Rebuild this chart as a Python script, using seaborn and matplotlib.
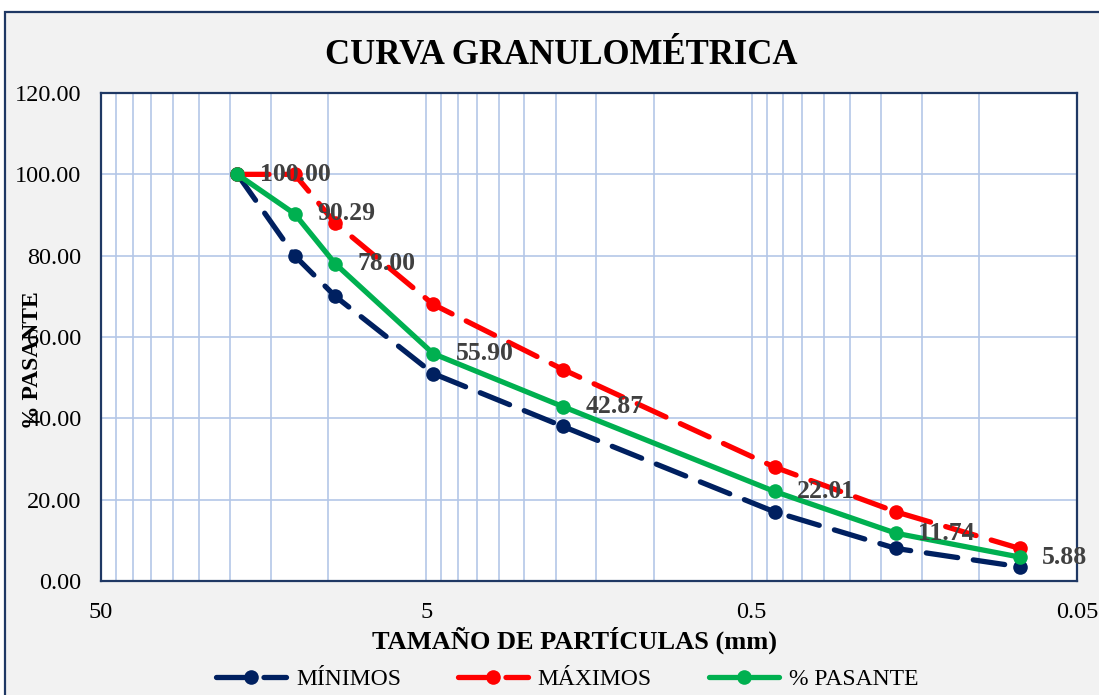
import numpy as np
import pandas as pd
import matplotlib
matplotlib.use("Agg")
import matplotlib.pyplot as plt
from matplotlib.ticker import FixedLocator, FixedFormatter, NullFormatter
from matplotlib.patches import Rectangle
import seaborn as sns

# Sieve openings (mm) and percent passing
tamanos = [19.05, 12.7, 9.525, 4.76, 1.9, 0.425, 0.18, 0.075]
minimos = [100, 80, 70, 51, 38, 17, 8, 3.5]
maximos = [100, 100, 88, 68, 52, 28, 17, 8]
pasante = [100.00, 90.29, 78.00, 55.90, 42.87, 22.01, 11.74, 5.88]

x_ticks = [50, 5, 0.5, 0.05]
x_tick_labels = ["50", "5", "0.5", "0.05"]
y_ticks = [0, 20, 40, 60, 80, 100, 120]

NAVY = "#002060"
RED = "#ff0000"
GREEN = "#00b050"
GRID = "#b4c7e7"
LABEL = "#404040"

sns.set_theme(style="white")
plt.rcParams["font.family"] = ["Liberation Serif", "DejaVu Serif"]
plt.rcParams["text.color"] = "black"

fig = plt.figure(figsize=(10.99, 6.95), dpi=100, facecolor="white")
# chart-area frame with light grey fill
fig.patches.append(Rectangle((5 / 1099, -0.05), 1.2, 1 - 12 / 695 + 0.05,
                             transform=fig.transFigure, facecolor="#f2f2f2",
                             edgecolor="#1f3864", linewidth=1.6, zorder=-5))

ax = fig.add_axes([101 / 1099, 1 - 581 / 695, (1077 - 101) / 1099, (581 - 93) / 695])
ax.set_zorder(2)
ax.set_facecolor("white")

df = pd.DataFrame({"tamano": tamanos, "minimos": minimos,
                   "maximos": maximos, "pasante": pasante})

dash = (0, (6, 3))
common = dict(ax=ax, x="tamano", lw=3.8, marker="o", markersize=10.5,
              markeredgewidth=0, sort=False)
sns.lineplot(data=df, y="minimos", color=NAVY, label="MÍNIMOS", zorder=3, **common)
sns.lineplot(data=df, y="maximos", color=RED, label="MÁXIMOS", zorder=3, **common)
sns.lineplot(data=df, y="pasante", color=GREEN, label="% PASANTE", zorder=4, **common)
for ln in ax.lines[:2]:
    ln.set_linestyle(dash)
    ln.set_dash_capstyle("round")
ax.lines[2].set_solid_capstyle("round")

ax.set_xscale("log")
ax.set_xlim(50, 0.05)
ax.set_ylim(0, 120)

minor = [m * 10.0 ** e for e in (-1, 0, 1) for m in (1.0, 1.5, 2.0, 2.5, 3.0, 3.5, 4.0, 4.5)]
ax.xaxis.set_major_locator(FixedLocator(x_ticks))
ax.xaxis.set_major_formatter(FixedFormatter(x_tick_labels))
ax.xaxis.set_minor_locator(FixedLocator(minor))
ax.xaxis.set_minor_formatter(NullFormatter())
ax.yaxis.set_major_locator(FixedLocator(y_ticks))
ax.set_yticklabels([f"{v:.2f}" for v in y_ticks])

ax.grid(True, which="both", axis="x", color=GRID, lw=1.2)
ax.grid(True, which="major", axis="y", color=GRID, lw=1.2)
ax.set_axisbelow(True)

for s in ax.spines.values():
    s.set_color("#1f3864")
    s.set_linewidth(1.6)

ax.tick_params(axis="both", which="both", length=0, labelsize=17.5, colors="black")
ax.tick_params(axis="x", pad=15)
ax.tick_params(axis="y", pad=14)

for xv, yv in zip(tamanos, pasante):
    ax.annotate(f"{yv:.2f}", (xv, yv), xytext=(16, 0), textcoords="offset points",
                ha="left", va="center", fontsize=18.5, fontweight="bold",
                color=LABEL, zorder=5)

ax.set_xlabel("")
ax.set_ylabel("")
fig.text(561 / 1099, 1 - 56 / 695, "CURVA GRANULOMÉTRICA", ha="center",
         va="center", fontsize=25, fontweight="bold")
fig.text(574 / 1099, 1 - 640 / 695, "TAMAÑO DE PARTÍCULAS (mm)", ha="center",
         va="center", fontsize=19, fontweight="bold")
fig.text(33 / 1099, 1 - 360 / 695, "% PASANTE", ha="center", va="center",
         rotation=90, fontsize=17, fontweight="bold", zorder=5)

leg = ax.legend(loc="center", bbox_to_anchor=(567 / 1099, 1 - 679 / 695),
                bbox_transform=fig.transFigure, ncol=3, frameon=False,
                fontsize=17, handlelength=3.0, columnspacing=2.4,
                handletextpad=0.4)
for t in leg.get_texts():
    t.set_color("black")

fig.savefig("out.png", dpi=100, facecolor=fig.get_facecolor())
